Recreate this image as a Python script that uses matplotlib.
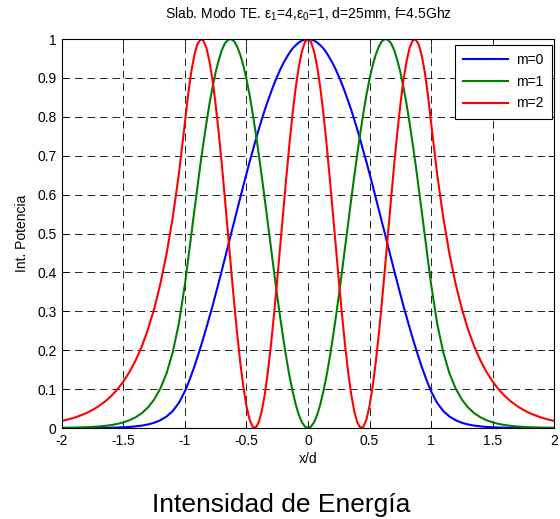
import numpy as np
import matplotlib
matplotlib.use("Agg")
import matplotlib.pyplot as plt

plt.rcParams['font.family'] = ['Liberation Sans', 'DejaVu Sans']
plt.rcParams['lines.scale_dashes'] = False

# x/d sample points: 0.05 steps in the cladding, 0.025 steps inside the slab
x_d = np.concatenate([np.linspace(-2, -1.05, 20),
                      np.linspace(-1, 1, 81),
                      np.linspace(1.05, 2, 20)])

# normalised power profiles
m0 = [0.0000, 0.0001, 0.0001, 0.0001, 0.0002, 0.0003, 0.0004, 0.0006, 0.0009, 0.0013,
      0.0020, 0.0029, 0.0043, 0.0063, 0.0092, 0.0136, 0.0201, 0.0296, 0.0437, 0.0644,
      0.095, 0.114, 0.135, 0.157, 0.181, 0.206, 0.232, 0.259, 0.287, 0.315,
      0.345, 0.375, 0.406, 0.437, 0.468, 0.500, 0.531, 0.562, 0.593, 0.624,
      0.654, 0.684, 0.712, 0.741, 0.768, 0.794, 0.819, 0.842, 0.864, 0.885,
      0.904, 0.922, 0.938, 0.952, 0.965, 0.976, 0.984, 0.991, 0.996, 0.999,
      1.000,
      0.999, 0.996, 0.991, 0.984, 0.976, 0.965, 0.952, 0.938, 0.922, 0.904,
      0.885, 0.864, 0.842, 0.819, 0.794, 0.768, 0.741, 0.712, 0.684, 0.654,
      0.624, 0.593, 0.562, 0.531, 0.500, 0.468, 0.437, 0.406, 0.375, 0.345,
      0.315, 0.287, 0.259, 0.232, 0.206, 0.181, 0.157, 0.135, 0.114, 0.095,
      0.0644, 0.0437, 0.0296, 0.0201, 0.0136, 0.0092, 0.0063, 0.0043, 0.0029, 0.0020,
      0.0013, 0.0009, 0.0006, 0.0004, 0.0003, 0.0002, 0.0001, 0.0001, 0.0001, 0.0000]

m1 = [0.0006, 0.0008, 0.0011, 0.0015, 0.0021, 0.0029, 0.0040, 0.0055, 0.0076, 0.0106,
      0.0146, 0.0202, 0.0279, 0.0385, 0.0533, 0.0736, 0.1017, 0.1406, 0.1943, 0.2685,
      0.371, 0.432, 0.494, 0.556, 0.617, 0.677, 0.733, 0.786, 0.835, 0.878,
      0.916, 0.947, 0.972, 0.989, 0.998, 1.000, 0.994, 0.980, 0.959, 0.931,
      0.897, 0.856, 0.809, 0.758, 0.703, 0.645, 0.584, 0.523, 0.461, 0.399,
      0.339, 0.282, 0.228, 0.178, 0.133, 0.094, 0.061, 0.034, 0.015, 0.004,
      0.000,
      0.004, 0.015, 0.034, 0.061, 0.094, 0.133, 0.178, 0.228, 0.282, 0.339,
      0.399, 0.461, 0.523, 0.584, 0.645, 0.703, 0.758, 0.809, 0.856, 0.897,
      0.931, 0.959, 0.980, 0.994, 1.000, 0.998, 0.989, 0.972, 0.947, 0.916,
      0.878, 0.835, 0.786, 0.733, 0.677, 0.617, 0.556, 0.494, 0.432, 0.371,
      0.2685, 0.1943, 0.1406, 0.1017, 0.0736, 0.0533, 0.0385, 0.0279, 0.0202, 0.0146,
      0.0106, 0.0076, 0.0055, 0.0040, 0.0029, 0.0021, 0.0015, 0.0011, 0.0008, 0.0006]

m2 = [0.0183, 0.0220, 0.0266, 0.0321, 0.0388, 0.0468, 0.0565, 0.0682, 0.0823, 0.0993,
      0.1199, 0.1447, 0.1747, 0.2108, 0.2545, 0.3072, 0.3708, 0.4476, 0.5403, 0.6522,
      0.787, 0.856, 0.914, 0.957, 0.986, 0.999, 0.996, 0.976, 0.941, 0.892,
      0.829, 0.756, 0.675, 0.588, 0.498, 0.408, 0.321, 0.239, 0.167, 0.105,
      0.056, 0.022, 0.003, 0.001, 0.015, 0.045, 0.089, 0.147, 0.217, 0.296,
      0.381, 0.471, 0.561, 0.649, 0.733, 0.809, 0.875, 0.928, 0.968, 0.992,
      1.000,
      0.992, 0.968, 0.928, 0.875, 0.809, 0.733, 0.649, 0.561, 0.471, 0.381,
      0.296, 0.217, 0.147, 0.089, 0.045, 0.015, 0.001, 0.003, 0.022, 0.056,
      0.105, 0.167, 0.239, 0.321, 0.408, 0.498, 0.588, 0.675, 0.756, 0.829,
      0.892, 0.941, 0.976, 0.996, 0.999, 0.986, 0.957, 0.914, 0.856, 0.787,
      0.6522, 0.5403, 0.4476, 0.3708, 0.3072, 0.2545, 0.2108, 0.1747, 0.1447, 0.1199,
      0.0993, 0.0823, 0.0682, 0.0565, 0.0468, 0.0388, 0.0321, 0.0266, 0.0220, 0.0183]

modes = ["m=0", "m=1", "m=2"]
colors = ["#0000ff", "#008000", "#ff0000"]

xticks = [-2, -1.5, -1, -0.5, 0, 0.5, 1, 1.5, 2]
xtick_labels = ["-2", "-1.5", "-1", "-0.5", "0", "0.5", "1", "1.5", "2"]
yticks = [0, 0.1, 0.2, 0.3, 0.4, 0.5, 0.6, 0.7, 0.8, 0.9, 1]
ytick_labels = ["0", "0.1", "0.2", "0.3", "0.4", "0.5", "0.6", "0.7", "0.8", "0.9", "1"]

fig = plt.figure(figsize=(5.6, 5.19), dpi=100)
ax = fig.add_axes([0.1107, 0.1753, 0.8786, 0.7495])

for prof, lab, c in zip([m0, m1, m2], modes, colors):
    ax.plot(x_d, prof, color=c, linewidth=1.5, label=lab)

ax.set_xlim(-2, 2)
ax.set_ylim(0, 1)
ax.set_xticks(xticks)
ax.set_xticklabels(xtick_labels)
ax.set_yticks(yticks)
ax.set_yticklabels(ytick_labels)
ax.tick_params(direction='in', length=4, width=0.6, labelsize=10,
               top=True, right=True, pad=4)
ax.grid(True, color='k', linewidth=0.6, linestyle=(0, (5.5, 3.5)))
for s in ax.spines.values():
    s.set_linewidth(0.8)

ax.set_xlabel("x/d", fontsize=10, labelpad=3)
ax.set_ylabel("Int. Potencia", fontsize=10, labelpad=6)
ax.set_title(r"Slab. Modo TE. $\mathregular{ε_1}$=4,$\mathregular{ε_0}$=1, d=25mm, f=4.5Ghz",
             fontsize=10, pad=15)

leg = ax.legend(loc='upper right', bbox_to_anchor=(0.996, 0.985), borderaxespad=0,
                fontsize=10, fancybox=False, framealpha=1, edgecolor='k',
                handlelength=3.2, handletextpad=0.6, labelspacing=0.55, borderpad=0.6)
leg.get_frame().set_linewidth(0.8)

fig.text(0.502, 0.027, "Intensidad de Energía", fontsize=19, ha='center', va='center')

fig.savefig("out.png", dpi=100)
